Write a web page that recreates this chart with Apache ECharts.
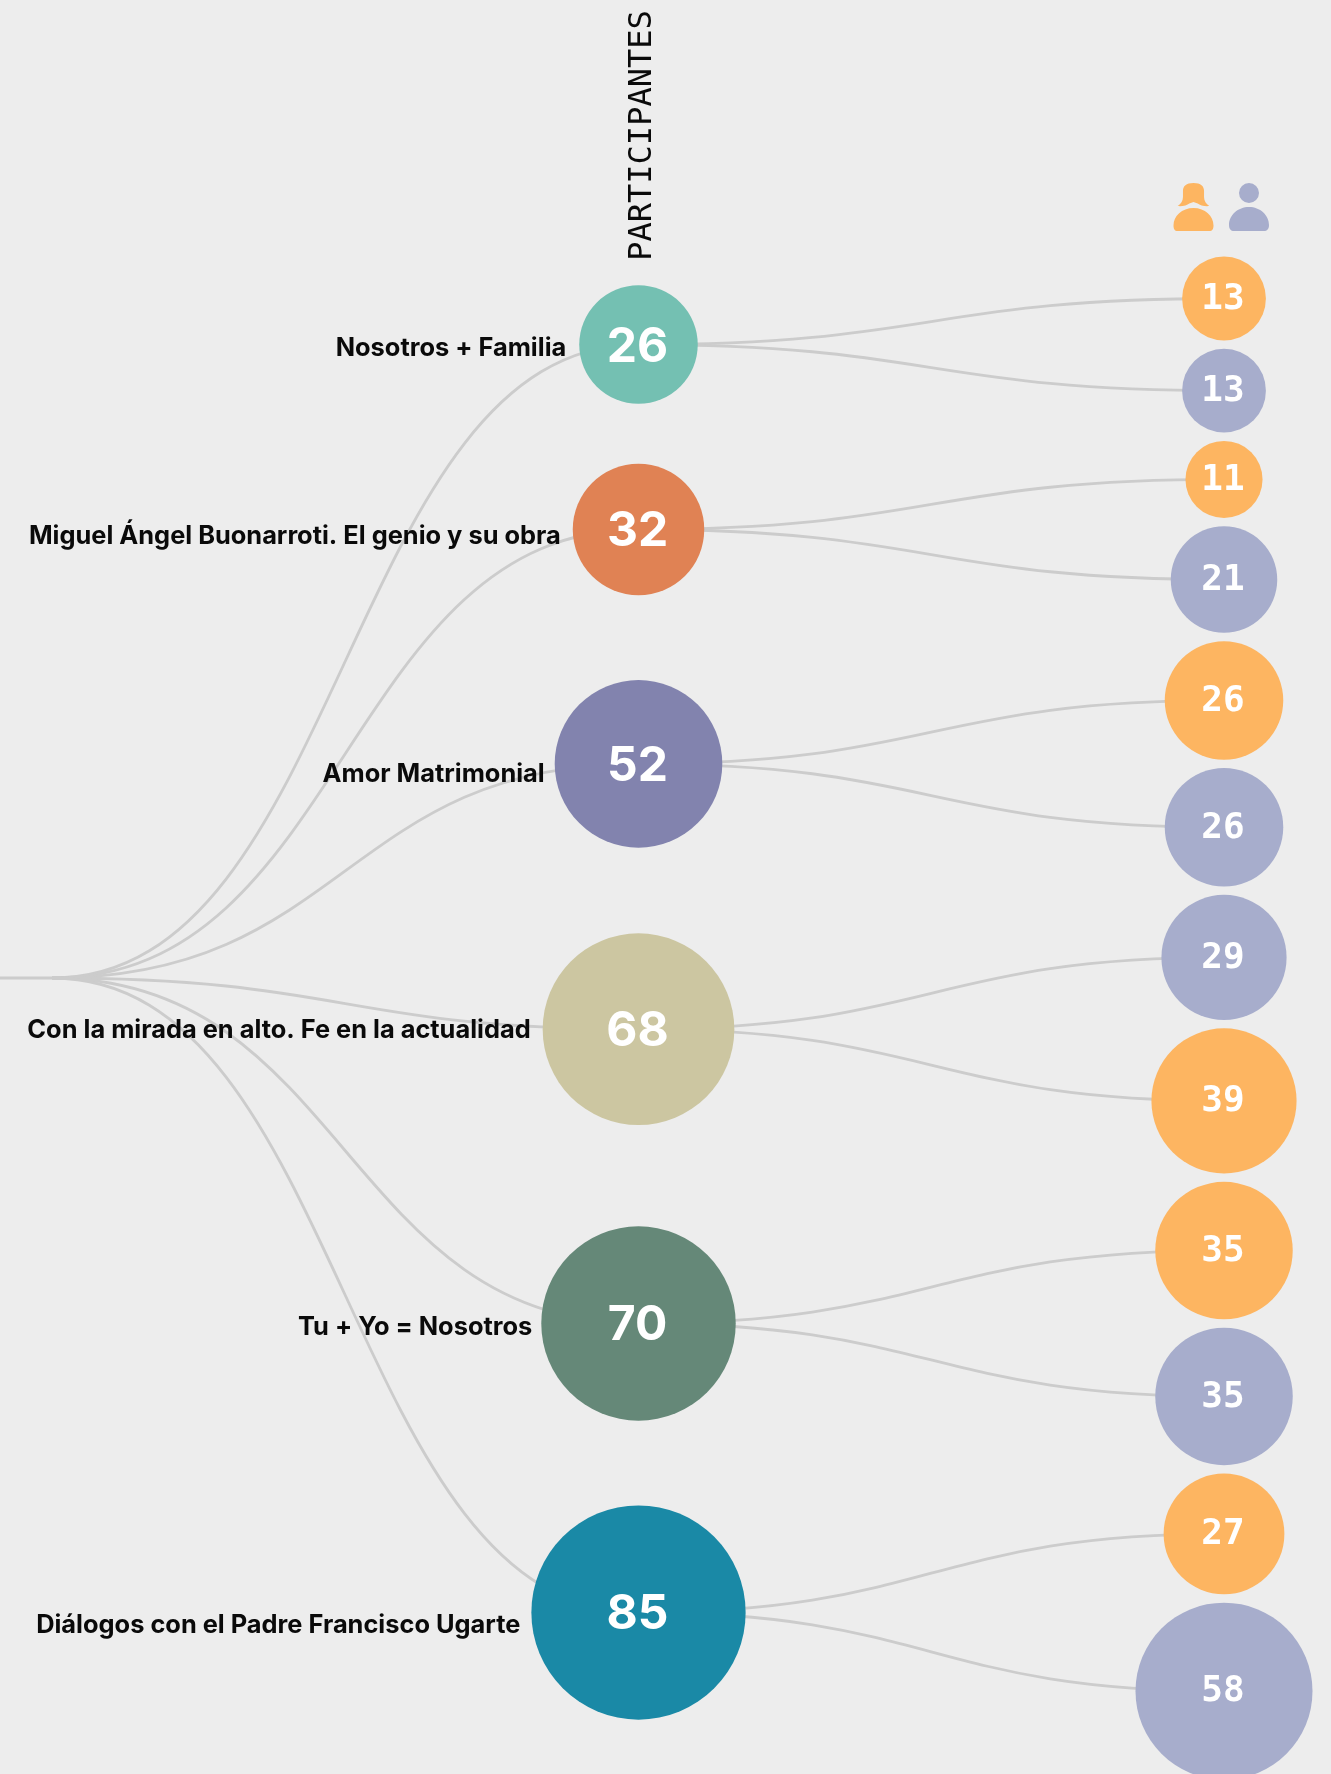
<!DOCTYPE html>
<html><head><meta charset="utf-8">
<style>html,body{margin:0;padding:0;background:#ededed}#c{width:1331px;height:1774px}</style>
<script src="https://cdn.jsdelivr.net/npm/echarts@6/dist/echarts.min.js"></script></head>
<body><div id="c"></div>
<script>
const courses = ["Nosotros + Familia","Miguel Ángel Buonarroti. El genio y su obra","Amor Matrimonial","Con la mirada en alto. Fe en la actualidad","Tu + Yo = Nosotros","Diálogos con el Padre Francisco Ugarte"];
const participants = [26,32,52,68,70,85];
const women = [13,11,26,39,35,27];
const men = [13,21,26,29,35,58];
const courseColors = ["#74C0B2","#E08254","#8283AE","#CCC6A1","#658878","#1A89A6"];
const womenColor = "#FDB561", menColor = "#A7ADCC", linkColor = "#CCCCCC";
const columnTitle = "PARTICIPANTES";

// layout constants (pixels of the 1331x1774 canvas)
const K = 11.62, GAP = 8.35, TOP = 256.6;
const X_ROOT = 52, X_COURSE = 638.5, X_SPLIT = 1224, Y_ROOT = 978;
const labelDy = [4,7,11,1,4,13];
const labelDx = [13,12,10,12,9,11];
const radius = v => K*Math.sqrt(v);

// circle-pack style stack: each course's two groups, smaller first (ties: women first)
let cursor = TOP;
const courseNodes = [], splitNodes = [], links = [];
courses.forEach((name,i)=>{
  const pair = women[i] <= men[i]
    ? [{v:women[i],c:womenColor},{v:men[i],c:menColor}]
    : [{v:men[i],c:menColor},{v:women[i],c:womenColor}];
  const ys = pair.map(p=>{ const r=radius(p.v); const y=cursor+r; cursor=y+r+GAP; return y; });
  const yc = (ys[0]+ys[1])/2;
  courseNodes.push({value:[X_COURSE,yc,participants[i]],itemStyle:{color:courseColors[i]},
    label:{formatter:String(participants[i])}, symbolSize:2*radius(participants[i])});
  links.push([X_ROOT,Y_ROOT,X_COURSE,yc]);
  pair.forEach((p,k)=>{
    splitNodes.push({value:[X_SPLIT,ys[k],p.v],itemStyle:{color:p.c},symbolSize:2*radius(p.v)});
    links.push([X_COURSE,yc,X_SPLIT,ys[k]]);
  });
});
links.push([0,Y_ROOT,X_ROOT,Y_ROOT]);

const chart = echarts.init(document.getElementById('c'),null,{renderer:'canvas'});
chart.setOption({
  backgroundColor:'#ededed',
  animation:false,
  grid:{left:0,right:0,top:0,bottom:0},
  xAxis:{type:'value',min:0,max:1331,show:false},
  yAxis:{type:'value',min:0,max:1774,inverse:true,show:false},
  series:[
    {type:'custom',coordinateSystem:'cartesian2d',silent:true,z:1,
     data:links,
     encode:{x:[0,2],y:[1,3]},
     renderItem:(p,api)=>{
       const a=api.coord([api.value(0),api.value(1)]), b=api.coord([api.value(2),api.value(3)]);
       const mx=(a[0]+b[0])/2;
       return {type:'bezierCurve',shape:{x1:a[0],y1:a[1],x2:b[0],y2:b[1],cpx1:mx,cpy1:a[1],cpx2:mx,cpy2:b[1]},
         style:{stroke:linkColor,lineWidth:2.8,fill:null}};
     }},
    {type:'scatter',z:3,silent:true,data:courseNodes,itemStyle:{opacity:1},
     label:{show:true,position:'inside',offset:[-1,2.5],color:'#fff',fontFamily:'Inter',fontWeight:700,fontSize:48}},
    {type:'scatter',z:3,silent:true,data:splitNodes,itemStyle:{opacity:1},
     label:{show:true,position:'inside',offset:[-1,1],color:'#fff',fontFamily:'DejaVu Sans Mono',fontWeight:'bold',fontSize:36,
       formatter:p=>String(p.value[2])}},
    {type:'scatter',z:4,silent:true,symbolSize:0,itemStyle:{opacity:1},
     data:courses.map((n,i)=>({value:[X_COURSE-radius(participants[i]),courseNodes[i].value[1],n],
       label:{formatter:n,position:'left',distance:labelDx[i],offset:[0,labelDy[i]]}})),
     label:{show:true,color:'#0a0a0a',fontFamily:'Inter',fontWeight:700,fontSize:25.4}},
    {type:'scatter',z:4,silent:true,symbolSize:0,itemStyle:{opacity:1},
     data:[{value:[643,135.5,columnTitle]}],
     label:{show:true,position:'inside',rotate:90,formatter:columnTitle,color:'#0a0a0a',fontFamily:'DejaVu Sans Mono',fontSize:32}},
    {type:'scatter',z:4,silent:true,itemStyle:{opacity:1},
     data:[
      {value:[1193.5,207],symbolSize:[40,48],itemStyle:{color:womenColor},
       symbol:'path://M20 0C13 0 10 3 10 8L10 14C10 18 8 21 5 23C9 23.5 14 22.5 16 20.5L20 19L24 20.5C26 22.5 31 23.5 35 23C32 21 30 18 30 14L30 8C30 3 27 0 20 0ZM20 25C9 25 1 33 1 42.500C1 46 2 48 5 48L35 48C38 48 39 46 39 42.500C39 33 31 25 20 25Z'},
      {value:[1249,207],symbolSize:[40,48],itemStyle:{color:menColor},
       symbol:'path://M20 0A10 10 0 1 0 20 20A10 10 0 1 0 20 0ZM20 24C9 24 0 32 0 42C0 46 2 48 5 48L35 48C38 48 40 46 40 42C40 32 31 24 20 24Z'}
     ]}
  ]
});
</script></body></html>
